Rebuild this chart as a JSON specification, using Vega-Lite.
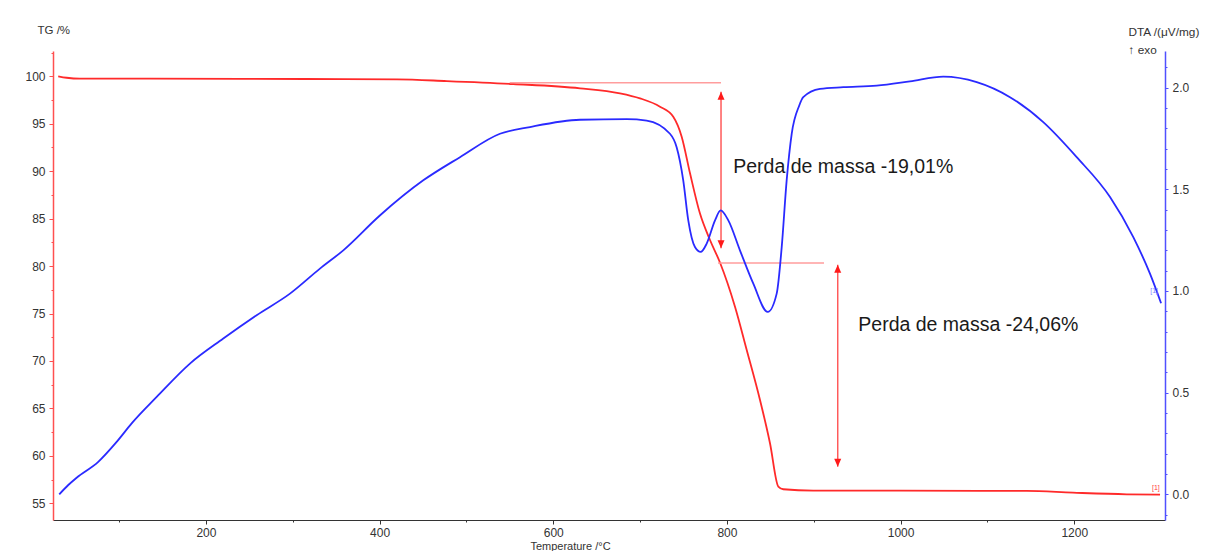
{
  "$schema": "https://vega.github.io/schema/vega-lite/v6.json",
  "width": 1112,
  "height": 469,
  "autosize": {"type": "none"},
  "padding": {"left": 53, "top": 51, "right": 46, "bottom": 31},
  "background": "white",
  "config": {
    "view": {"stroke": null},
    "font": "Liberation Sans",
    "axis": {
      "grid": false,
      "labelFont": "Liberation Sans",
      "titleFont": "Liberation Sans",
      "labelColor": "#333333",
      "titleColor": "#333333",
      "titleFontWeight": "normal",
      "labelFontSize": 12,
      "titleFontSize": 11.5,
      "labelOverlap": false
    }
  },
  "datasets": {
    "tg": [
      {"T": 29.9, "TG": 100.0}, {"T": 39.6, "TG": 99.85}, {"T": 54.9, "TG": 99.75}, {"T": 135.6, "TG": 99.75},
      {"T": 314, "TG": 99.72}, {"T": 420, "TG": 99.68}, {"T": 477.3, "TG": 99.5}, {"T": 554, "TG": 99.19},
      {"T": 630.8, "TG": 98.74}, {"T": 676.8, "TG": 98.21}, {"T": 699.9, "TG": 97.68}, {"T": 722.9, "TG": 96.8},
      {"T": 738.2, "TG": 95.74}, {"T": 747.9, "TG": 93.64}, {"T": 757.5, "TG": 89.78}, {"T": 768.9, "TG": 85.56},
      {"T": 780.5, "TG": 82.75}, {"T": 792, "TG": 80.38}, {"T": 809.3, "TG": 75.72}, {"T": 822.8, "TG": 71.16},
      {"T": 838.1, "TG": 65.89}, {"T": 849.6, "TG": 61.33}, {"T": 859.2, "TG": 56.76}, {"T": 864.9, "TG": 56.48},
      {"T": 899.5, "TG": 56.33}, {"T": 999.3, "TG": 56.33}, {"T": 1145.2, "TG": 56.3}, {"T": 1198.5, "TG": 56.12},
      {"T": 1260.4, "TG": 55.95}, {"T": 1298.8, "TG": 55.91}
    ],
    "dta": [
      {"T": 31.1, "DTA": 0.0}, {"T": 41.5, "DTA": 0.046}, {"T": 51.1, "DTA": 0.082}, {"T": 76, "DTA": 0.16},
      {"T": 97.2, "DTA": 0.258}, {"T": 114.5, "DTA": 0.349}, {"T": 143.3, "DTA": 0.479}, {"T": 181.6, "DTA": 0.643},
      {"T": 220, "DTA": 0.766}, {"T": 258.4, "DTA": 0.881}, {"T": 296.8, "DTA": 0.987}, {"T": 331.3, "DTA": 1.11},
      {"T": 358.2, "DTA": 1.2}, {"T": 400, "DTA": 1.37}, {"T": 450.3, "DTA": 1.544}, {"T": 492.6, "DTA": 1.658},
      {"T": 538.6, "DTA": 1.773}, {"T": 573.2, "DTA": 1.806}, {"T": 630.8, "DTA": 1.842}, {"T": 684.6, "DTA": 1.845},
      {"T": 707.6, "DTA": 1.838}, {"T": 734.4, "DTA": 1.773}, {"T": 742.1, "DTA": 1.707}, {"T": 749.7, "DTA": 1.544},
      {"T": 755.5, "DTA": 1.347}, {"T": 763.2, "DTA": 1.216}, {"T": 769.8, "DTA": 1.192}, {"T": 776.7, "DTA": 1.233},
      {"T": 786.3, "DTA": 1.347}, {"T": 792.8, "DTA": 1.396}, {"T": 801.6, "DTA": 1.347}, {"T": 815, "DTA": 1.2},
      {"T": 830.4, "DTA": 1.036}, {"T": 847, "DTA": 0.897}, {"T": 857.3, "DTA": 0.987}, {"T": 863.1, "DTA": 1.216},
      {"T": 868.8, "DTA": 1.544}, {"T": 874.6, "DTA": 1.773}, {"T": 883.3, "DTA": 1.912}, {"T": 887.9, "DTA": 1.953},
      {"T": 907.2, "DTA": 1.994}, {"T": 934, "DTA": 2.002}, {"T": 972.5, "DTA": 2.01}, {"T": 1010.8, "DTA": 2.031},
      {"T": 1049.2, "DTA": 2.054}, {"T": 1087.7, "DTA": 2.027}, {"T": 1126, "DTA": 1.953}, {"T": 1164.3, "DTA": 1.83},
      {"T": 1202.8, "DTA": 1.658}, {"T": 1241.2, "DTA": 1.462}, {"T": 1268, "DTA": 1.265}, {"T": 1287.2, "DTA": 1.085},
      {"T": 1300, "DTA": 0.94}
    ],
    "hlines": [
      {"T": 550, "T2": 793.2, "TG": 99.33},
      {"T": 789.7, "T2": 911.8, "TG": 80.32}
    ],
    "vlines": [
      {"T": 793.2, "TG": 98.38, "TG2": 81.88},
      {"T": 927.6, "TG": 80.14, "TG2": 58.86}
    ],
    "arrowsUp": [
      {"T": 793.2, "TG": 98.38},
      {"T": 927.6, "TG": 80.14}
    ],
    "arrowsDown": [
      {"T": 793.2, "TG": 81.88},
      {"T": 927.6, "TG": 58.86}
    ],
    "labels": [
      {"T": 807.3, "TG": 89.78, "label": "Perda de massa -19,01%"},
      {"T": 951.3, "TG": 73.19, "label": "Perda de massa -24,06%"}
    ],
    "tgMarker": [{"T": 1294, "TG": 56.6, "label": "[1]"}],
    "dtaMarker": [{"T": 1292, "DTA": 1.0, "label": "[1]"}]
  },
  "encoding": {
    "x": {
      "field": "T",
      "type": "quantitative",
      "scale": {"domain": [23.9, 1304.5], "nice": false, "zero": false},
      "axis": {
        "title": "Temperature /°C",
        "values": [100, 200, 300, 400, 500, 600, 700, 800, 900, 1000, 1100, 1200],
        "format": "d",
        "labelExpr": "datum.value % 200 == 0 ? datum.label : ''",
        "tickSize": {"condition": {"test": "datum.value % 200 == 0", "value": 4}, "value": 2},
        "tickColor": "#333333",
        "domainColor": "#333333",
        "labelPadding": 3,
        "labelFontSize": 12,
        "titleX": 517,
        "titleY": 26,
        "titleAlign": "center",
        "titleBaseline": "middle",
        "titleFontSize": 11
      }
    }
  },
  "layer": [
    {
      "encoding": {
        "y": {
          "field": "TG",
          "type": "quantitative",
          "scale": {"domain": [53.24, 102.67], "nice": false, "zero": false},
          "axis": {
            "title": "TG /%",
            "orient": "left",
            "values": [55, 57.5, 60, 62.5, 65, 67.5, 70, 72.5, 75, 77.5, 80, 82.5, 85, 87.5, 90, 92.5, 95, 97.5, 100, 102.5],
            "format": "d",
            "labelExpr": "datum.value % 5 == 0 ? datum.label : ''",
            "tickSize": {"condition": {"test": "datum.value % 5 == 0", "value": 4}, "value": 2},
            "tickColor": "#ff5050",
            "domainColor": "#ff5050",
            "domainWidth": 1.5,
            "labelPadding": 4,
            "titleAngle": 0,
            "titleX": -16,
            "titleY": -21,
            "titleAlign": "left",
            "titleBaseline": "middle"
          }
        }
      },
      "layer": [
        {
          "data": {"name": "tg"},
          "mark": {"type": "line", "color": "#ff2a2a", "strokeWidth": 1.8, "interpolate": "monotone"}
        },
        {
          "data": {"name": "hlines"},
          "mark": {"type": "rule", "color": "#ff9d9d", "strokeWidth": 1.5},
          "encoding": {"x2": {"field": "T2"}}
        },
        {
          "data": {"name": "vlines"},
          "mark": {"type": "rule", "color": "#ff5a5a", "strokeWidth": 1.5},
          "encoding": {"y2": {"field": "TG2"}}
        },
        {
          "data": {"name": "arrowsUp"},
          "mark": {"type": "point", "shape": "M0,0L0.7,1.6L-0.7,1.6Z", "size": 100, "filled": true, "opacity": 1, "color": "#ff1a1a"}
        },
        {
          "data": {"name": "arrowsDown"},
          "mark": {"type": "point", "shape": "M0,0L0.7,-1.6L-0.7,-1.6Z", "size": 100, "filled": true, "opacity": 1, "color": "#ff1a1a"}
        },
        {
          "data": {"name": "labels"},
          "mark": {"type": "text", "align": "left", "baseline": "alphabetic", "fontSize": 19.5, "font": "Liberation Sans", "color": "#1a1a1a"},
          "encoding": {"text": {"field": "label"}}
        },
        {
          "data": {"name": "tgMarker"},
          "mark": {"type": "text", "align": "center", "baseline": "middle", "fontSize": 7, "color": "#ff4040"},
          "encoding": {"text": {"field": "label"}}
        }
      ]
    },
    {
      "encoding": {
        "y": {
          "field": "DTA",
          "type": "quantitative",
          "scale": {"domain": [-0.126, 2.18], "nice": false, "zero": false},
          "axis": {
            "title": ["DTA /(μV/mg)", "↑ exo"],
            "orient": "right",
            "values": [-0.1, 0, 0.1, 0.2, 0.3, 0.4, 0.5, 0.6, 0.7, 0.8, 0.9, 1, 1.1, 1.2, 1.3, 1.4, 1.5, 1.6, 1.7, 1.8, 1.9, 2, 2.1],
            "format": ".1f",
            "labelExpr": "abs(round(datum.value * 10)) % 5 == 0 ? datum.label : ''",
            "tickSize": {"condition": {"test": "abs(round(datum.value * 10)) % 5 == 0", "value": 3}, "value": 2},
            "tickColor": "#5050ff",
            "domainColor": "#5050ff",
            "domainWidth": 1.5,
            "labelPadding": 4,
            "titleAngle": 0,
            "titleX": -37,
            "titleY": -16,
            "titleAlign": "left",
            "titleBaseline": "alphabetic",
            "titleLineHeight": 18.6,
            "titleFontSize": 11.8
          }
        }
      },
      "layer": [
        {
          "data": {"name": "dta"},
          "mark": {"type": "line", "color": "#2a2aff", "strokeWidth": 1.8, "interpolate": "monotone"}
        },
        {
          "data": {"name": "dtaMarker"},
          "mark": {"type": "text", "align": "center", "baseline": "middle", "fontSize": 7, "color": "#8080ff"},
          "encoding": {"text": {"field": "label"}}
        }
      ]
    }
  ],
  "resolve": {"scale": {"y": "independent"}}
}
